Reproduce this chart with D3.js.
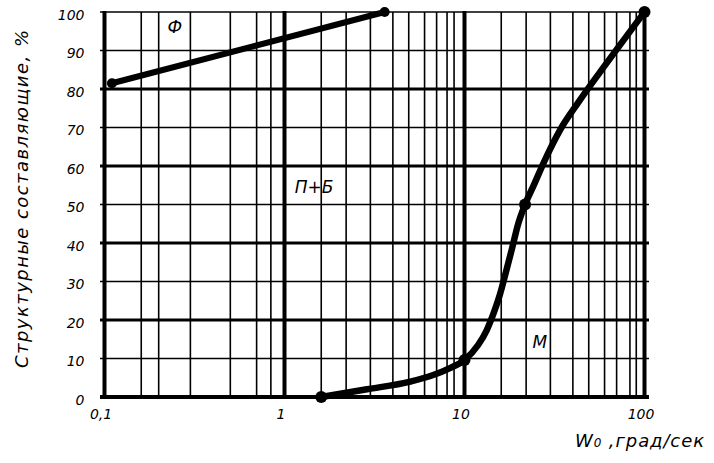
<!DOCTYPE html>
<html>
<head>
<meta charset="utf-8">
<script src="https://cdn.jsdelivr.net/npm/d3@7"></script>
<style>
  html, body { margin: 0; padding: 0; background: #fff; }
  svg { display: block; }
  text { font-family: "DejaVu Sans", sans-serif; font-weight: 200; font-style: italic; fill: #000; }
</style>
</head>
<body>
<svg id="chart" width="714" height="463"></svg>
<script>
// ---- data ----
const xTickValues = [0.1, 1, 10, 100];
const xTickLabels = ["0,1", "1", "10", "100"];
const yTickValues = [0, 10, 20, 30, 40, 50, 60, 70, 80, 90, 100];
// minor vertical grid lines as drawn on the sheet (hand-ruled)
const xMinorGrid = [0.16, 0.2, 0.3, 0.5, 0.7, 0.84,
                    1.6, 2.2, 3, 4, 4.9, 6, 7, 8, 8.75,
                    16, 22, 30, 40, 49, 60, 70, 83, 90];
const xMajorGrid = [0.1, 1, 10, 100];
const yMajorGrid = [0, 20, 40, 60, 80];
const yMinorGrid = [10, 30, 50, 70, 90, 100];

// ferrite curve Ф
const ferriteX = [0.11, 3.6];
const ferriteY = [81.5, 100];
// martensite curve М
const martX = [1.6, 2.87, 5.0, 6.7, 8.3, 10, 11.9, 13.3, 14.6, 15.7, 17.0, 18.4, 19.8, 21.7, 24.3, 28, 34, 42.7, 56.6, 73, 100];
const martY = [0, 2, 4, 5.7, 7.5, 9.6, 13.5, 17.4, 22.1, 26.5, 32.5, 38.7, 44.7, 50, 55.1, 61.6, 69.4, 76.4, 84.4, 91.4, 100];
const martDotsX = [1.6, 10, 21.7, 100];
const martDotsY = [0, 9.6, 50, 100];

const regionLabels = ["Ф", "П+Б", "М"];
const regionX = [0.246, 1.46, 26.2];
const regionY = [94.5, 53, 12.7];

const yTitle = "Структурные составляющие, %";
const xTitleMain = "W";
const xTitleSub = "0";
const xTitleRest = " ,град/сек";

// ---- drawing ----
const svg = d3.select("#chart");
const x = d3.scaleLog().domain([0.1, 100]).range([104.5, 644.5]);
const y = d3.scaleLinear().domain([0, 100]).range([397, 12]);

const grid = svg.append("g");
// horizontal lines
grid.selectAll("line.hmin").data(yMinorGrid).join("line")
  .attr("x1", 100).attr("x2", 649)
  .attr("y1", d => y(d)).attr("y2", d => y(d))
  .attr("stroke", "#000").attr("stroke-width", 1.6);
grid.selectAll("line.hmaj").data(yMajorGrid).join("line")
  .attr("x1", 100).attr("x2", 649)
  .attr("y1", d => y(d)).attr("y2", d => y(d))
  .attr("stroke", "#000").attr("stroke-width", d => d === 0 ? 4 : 2.8);
// vertical lines
grid.selectAll("line.vmin").data(xMinorGrid).join("line")
  .attr("x1", d => x(d)).attr("x2", d => x(d))
  .attr("y1", y(100)).attr("y2", y(0))
  .attr("stroke", "#000").attr("stroke-width", 1.6);
grid.selectAll("line.vmaj").data(xMajorGrid).join("line")
  .attr("x1", d => x(d)).attr("x2", d => x(d))
  .attr("y1", y(100) - 1).attr("y2", y(0) + 2)
  .attr("stroke", "#000").attr("stroke-width", 4);

// axes (labels only)
const xAxis = d3.axisBottom(x).tickValues(xTickValues)
  .tickFormat((d, i) => xTickLabels[i]).tickSize(0).tickPadding(12);
const gx = svg.append("g").attr("transform", `translate(-4,${y(0)})`).call(xAxis);
gx.select(".domain").remove();
gx.selectAll("text").attr("font-size", 14).attr("font-family", null);

const yAxis = d3.axisLeft(y).tickValues(yTickValues).tickSize(0).tickPadding(20);
const gy = svg.append("g").attr("transform", `translate(${x(0.1)},3)`).call(yAxis);
gy.select(".domain").remove();
gy.selectAll("text").attr("font-size", 14).attr("font-family", null);

// curves
const line = d3.line().x(d => x(d[0])).y(d => y(d[1]));
svg.append("path")
  .attr("d", line(ferriteX.map((v, i) => [v, ferriteY[i]])))
  .attr("fill", "none").attr("stroke", "#000").attr("stroke-width", 6).attr("stroke-linecap", "round");
svg.selectAll("circle.f").data(ferriteX).join("circle")
  .attr("cx", d => x(d)).attr("cy", (d, i) => y(ferriteY[i])).attr("r", 5).attr("fill", "#000");

const curve = d3.line().curve(d3.curveMonotoneX).x(d => x(d[0])).y(d => y(d[1]));
svg.append("path")
  .attr("d", curve(martX.map((v, i) => [v, martY[i]])))
  .attr("fill", "none").attr("stroke", "#000").attr("stroke-width", 6.5)
  .attr("stroke-linecap", "round").attr("stroke-linejoin", "round");
svg.selectAll("circle.m").data(martDotsX).join("circle")
  .attr("cx", d => x(d)).attr("cy", (d, i) => y(martDotsY[i])).attr("r", 6).attr("fill", "#000");

// region labels
svg.selectAll("text.region").data(regionLabels).join("text")
  .attr("x", (d, i) => x(regionX[i])).attr("y", (d, i) => y(regionY[i]))
  .attr("text-anchor", "middle").attr("font-size", 17)
  .text(d => d);

// axis titles
svg.append("text")
  .attr("transform", `translate(28,199) rotate(-90)`)
  .attr("text-anchor", "middle").attr("font-size", 18)
  .attr("textLength", 338).attr("lengthAdjust", "spacing")
  .text(yTitle);

const xt = svg.append("text").attr("x", 575).attr("y", 447).attr("font-size", 18)
  .attr("textLength", 129).attr("lengthAdjust", "spacing");
xt.append("tspan").text(xTitleMain);
xt.append("tspan").attr("font-size", 12).text(xTitleSub);
xt.append("tspan").text(xTitleRest);
</script>
</body>
</html>
